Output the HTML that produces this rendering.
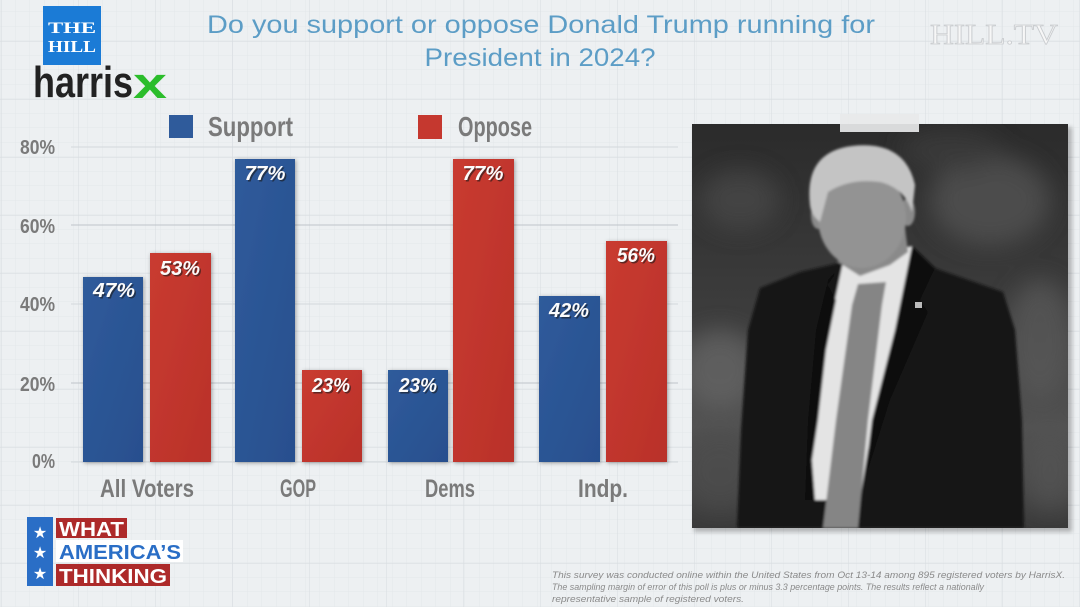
<!DOCTYPE html>
<html><head><meta charset="utf-8"><style>
html,body{margin:0;padding:0;background:#edf0f2;}
svg{display:block;}
text{font-family:"Liberation Sans",sans-serif;}
</style></head><body>
<svg width="1080" height="607" viewBox="0 0 1080 607" xmlns="http://www.w3.org/2000/svg">
<defs>
<pattern id="minor" x="1" y="41" width="14.5" height="14.5" patternUnits="userSpaceOnUse">
<path d="M14.5 0V14.5M0 14.5H14.5" stroke="#e3e7ea" stroke-width="1" fill="none"/>
</pattern>
<pattern id="major" x="1" y="41" width="77" height="58" patternUnits="userSpaceOnUse">
<path d="M0 0V58M0 0H77" stroke="#d9dee2" stroke-width="1.2" fill="none"/>
</pattern>
<filter id="sh" x="-20%" y="-10%" width="140%" height="120%">
<feDropShadow dx="1" dy="1" stdDeviation="2" flood-color="#000" flood-opacity="0.35"/>
</filter>
<filter id="blur6"><feGaussianBlur stdDeviation="12"/></filter>
<filter id="blur2"><feGaussianBlur stdDeviation="2"/></filter>
<filter id="blur1"><feGaussianBlur stdDeviation="1.2"/></filter>
<linearGradient id="bg" x1="0" y1="0" x2="0" y2="1">
<stop offset="0" stop-color="#2b2b2b"/><stop offset="0.5" stop-color="#3e3e3e"/><stop offset="0.75" stop-color="#525252"/><stop offset="1" stop-color="#3a3a3a"/>
</linearGradient>
<linearGradient id="blue" x1="0" y1="0" x2="1" y2="1">
<stop offset="0" stop-color="#2f5b9b"/><stop offset="1" stop-color="#284f8e"/>
</linearGradient>
<linearGradient id="red" x1="0" y1="0" x2="1" y2="1">
<stop offset="0" stop-color="#c93b30"/><stop offset="1" stop-color="#b9312a"/>
</linearGradient>
</defs>
<rect width="1080" height="607" fill="#edf0f2"/>
<rect width="1080" height="607" fill="url(#minor)"/>
<rect width="1080" height="607" fill="url(#major)"/>

<!-- THE HILL logo -->
<rect x="43" y="6" width="58" height="59" fill="#1b7bd6"/>
<text x="72" y="33" text-anchor="middle" font-weight="bold" font-size="16" fill="#fff" textLength="48" lengthAdjust="spacingAndGlyphs" style="font-family:'Liberation Serif',serif">THE</text>
<text x="72" y="52" text-anchor="middle" font-weight="bold" font-size="17" fill="#fff" textLength="48" lengthAdjust="spacingAndGlyphs" style="font-family:'Liberation Serif',serif">HILL</text>
<!-- harrisx -->
<text x="33" y="97" font-size="44" font-weight="bold" fill="#222" textLength="100" lengthAdjust="spacingAndGlyphs">harris</text>
<text x="133" y="98" font-size="44" font-weight="bold" fill="#2bbd2b" textLength="34" lengthAdjust="spacingAndGlyphs">x</text>

<!-- Title -->
<text x="541" y="33" text-anchor="middle" font-size="25" fill="#5c9dc6" textLength="668" lengthAdjust="spacingAndGlyphs">Do you support or oppose Donald Trump running for</text>
<text x="540" y="66" text-anchor="middle" font-size="25" fill="#5c9dc6" textLength="231" lengthAdjust="spacingAndGlyphs">President in 2024?</text>

<!-- HILLTV -->
<text x="930" y="44" font-size="28" fill="#f7f7f7" stroke="#c9cccf" stroke-width="0.8" textLength="128" lengthAdjust="spacingAndGlyphs" style="font-family:'Liberation Serif',serif">HILL.TV</text>

<!-- Legend -->
<rect x="169" y="115" width="24" height="23" fill="#2f5b9b"/>
<text x="208" y="136" font-size="28" font-weight="bold" fill="#7a7a7a" textLength="85" lengthAdjust="spacingAndGlyphs">Support</text>
<rect x="418" y="115" width="24" height="24" fill="#c5382f"/>
<text x="458" y="136" font-size="28" font-weight="bold" fill="#7a7a7a" textLength="74" lengthAdjust="spacingAndGlyphs">Oppose</text>

<!-- Gridlines -->
<g stroke-width="1">
<line x1="71" y1="147" x2="678" y2="147" stroke="#d3d8dc"/>
<line x1="71" y1="225" x2="678" y2="225" stroke="#bfc4c9"/>
<line x1="71" y1="304" x2="678" y2="304" stroke="#d3d8dc"/>
<line x1="71" y1="383" x2="678" y2="383" stroke="#bfc4c9"/>
<line x1="71" y1="462" x2="678" y2="462" stroke="#d3d8dc"/>
</g>
<!-- Y labels -->
<g font-size="20" font-weight="bold" fill="#7a7a7a" text-anchor="end">
<text x="55" y="154" textLength="35" lengthAdjust="spacingAndGlyphs">80%</text>
<text x="55" y="233" textLength="35" lengthAdjust="spacingAndGlyphs">60%</text>
<text x="55" y="311" textLength="35" lengthAdjust="spacingAndGlyphs">40%</text>
<text x="55" y="391" textLength="35" lengthAdjust="spacingAndGlyphs">20%</text>
<text x="55" y="468" textLength="23" lengthAdjust="spacingAndGlyphs">0%</text>
</g>

<!-- Bars -->
<g filter="url(#sh)">
<rect x="83" y="277" width="60" height="185" fill="url(#blue)"/>
<rect x="150" y="253" width="61" height="209" fill="url(#red)"/>
<rect x="235" y="159" width="60" height="303" fill="url(#blue)"/>
<rect x="302" y="370" width="60" height="92" fill="url(#red)"/>
<rect x="388" y="370" width="60" height="92" fill="url(#blue)"/>
<rect x="453" y="159" width="61" height="303" fill="url(#red)"/>
<rect x="539" y="296" width="61" height="166" fill="url(#blue)"/>
<rect x="606" y="241" width="61" height="221" fill="url(#red)"/>
</g>

<!-- Value labels -->
<g font-size="20" font-weight="bold" font-style="italic" text-anchor="middle">
<g fill="#1a1a1a" opacity="0.6" transform="translate(1.5,1.5)">
<text x="114" y="297" textLength="42" lengthAdjust="spacingAndGlyphs">47%</text>
<text x="180" y="275" textLength="40" lengthAdjust="spacingAndGlyphs">53%</text>
<text x="265" y="180" textLength="41" lengthAdjust="spacingAndGlyphs">77%</text>
<text x="331" y="392" textLength="38" lengthAdjust="spacingAndGlyphs">23%</text>
<text x="418" y="392" textLength="38" lengthAdjust="spacingAndGlyphs">23%</text>
<text x="483" y="180" textLength="41" lengthAdjust="spacingAndGlyphs">77%</text>
<text x="569" y="317" textLength="40" lengthAdjust="spacingAndGlyphs">42%</text>
<text x="636" y="262" textLength="38" lengthAdjust="spacingAndGlyphs">56%</text>
</g>
<g fill="#fbfbfb">
<text x="114" y="297" textLength="42" lengthAdjust="spacingAndGlyphs">47%</text>
<text x="180" y="275" textLength="40" lengthAdjust="spacingAndGlyphs">53%</text>
<text x="265" y="180" textLength="41" lengthAdjust="spacingAndGlyphs">77%</text>
<text x="331" y="392" textLength="38" lengthAdjust="spacingAndGlyphs">23%</text>
<text x="418" y="392" textLength="38" lengthAdjust="spacingAndGlyphs">23%</text>
<text x="483" y="180" textLength="41" lengthAdjust="spacingAndGlyphs">77%</text>
<text x="569" y="317" textLength="40" lengthAdjust="spacingAndGlyphs">42%</text>
<text x="636" y="262" textLength="38" lengthAdjust="spacingAndGlyphs">56%</text>
</g>
</g>

<!-- Category labels -->
<g font-size="25" font-weight="bold" fill="#7a7a7a" text-anchor="middle">
<text x="147" y="497" textLength="94" lengthAdjust="spacingAndGlyphs">All Voters</text>
<text x="298" y="497" textLength="36" lengthAdjust="spacingAndGlyphs">GOP</text>
<text x="450" y="497" textLength="50" lengthAdjust="spacingAndGlyphs">Dems</text>
<text x="603" y="497" textLength="50" lengthAdjust="spacingAndGlyphs">Indp.</text>
</g>

<!-- Photo -->
<rect x="694" y="127" width="378" height="405" fill="#000" opacity="0.25" filter="url(#blur2)"/>
<svg x="692" y="124" width="376" height="404" viewBox="692 124 376 404" overflow="hidden">
<rect x="692" y="124" width="376" height="404" fill="url(#bg)"/>
<g filter="url(#blur6)" opacity="0.75">
<ellipse cx="740" cy="200" rx="40" ry="30" fill="#4a4a4a"/>
<ellipse cx="990" cy="200" rx="60" ry="45" fill="#555"/>
<ellipse cx="720" cy="370" rx="40" ry="40" fill="#666"/>
<ellipse cx="1040" cy="340" rx="35" ry="60" fill="#5a5a5a"/>
<ellipse cx="950" cy="150" rx="50" ry="20" fill="#3d3d3d"/>
<ellipse cx="720" cy="470" rx="40" ry="40" fill="#4e4e4e"/>
<ellipse cx="1050" cy="470" rx="30" ry="40" fill="#555"/>
</g>
<g filter="url(#blur1)">
<!-- suit -->
<path d="M760 288 L800 272 L843 262 L905 255 L940 270 L1003 292 L1015 330 L1022 420 L1024 528 L737 528 L741 430 L748 330 Z" fill="#161616"/>
<!-- shirt -->
<path d="M843 262 L912 246 L905 300 L885 380 L868 450 L860 500 L808 500 L812 420 L822 350 L835 300 Z" fill="#e4e4e4"/>
<!-- lapels darker -->
<path d="M912 246 L935 268 L920 300 L928 312 L890 400 L868 470 L862 500 L872 420 L895 330 Z" fill="#0e0e0e"/>
<path d="M843 262 L828 285 L836 300 L826 350 L818 420 L812 460 L815 500 L805 500 L808 420 L816 330 L828 280 Z" fill="#0e0e0e"/>
<!-- tie -->
<path d="M858 284 L886 282 L882 305 L868 420 L858 528 L823 528 L836 420 L852 305 Z" fill="#858585"/>
<!-- neck/face -->
<path d="M835 230 L905 228 L908 252 L890 265 L860 276 L838 262 Z" fill="#8a8a8a"/>
<ellipse cx="818" cy="215" rx="7" ry="14" fill="#8a8a8a"/>
<ellipse cx="908" cy="212" rx="7" ry="14" fill="#8a8a8a"/>
<ellipse cx="862" cy="218" rx="44" ry="50" fill="#939393"/>
<!-- hair -->
<path d="M810 205 Q804 152 852 146 Q905 140 915 185 L912 212 Q905 188 880 182 Q850 178 828 192 L820 222 Q811 215 810 205 Z" fill="#c4c4c4"/>
</g>
<!-- pin -->
<rect x="915" y="302" width="7" height="6" fill="#bbb"/>
</svg>
<!-- tape -->
<rect x="840" y="114" width="79" height="18" fill="#e8e9ea" opacity="0.92"/>

<!-- What America's Thinking -->
<rect x="27" y="517" width="26" height="69" fill="#2a6ec6"/>
<g fill="#fff" font-size="16" text-anchor="middle">
<text x="40" y="538">★</text>
<text x="40" y="558">★</text>
<text x="40" y="579">★</text>
</g>
<rect x="56" y="518" width="71" height="20" fill="#ad2a2a"/>
<text x="59" y="536" font-size="20" font-weight="bold" fill="#fff" textLength="65" lengthAdjust="spacingAndGlyphs">WHAT</text>
<rect x="56" y="540" width="127" height="22" fill="#fff"/>
<text x="59" y="559" font-size="20" font-weight="bold" fill="#2a6ec6" textLength="122" lengthAdjust="spacingAndGlyphs">AMERICA’S</text>
<rect x="56" y="564" width="114" height="22" fill="#ad2a2a"/>
<text x="59" y="583" font-size="20" font-weight="bold" fill="#fff" textLength="108" lengthAdjust="spacingAndGlyphs">THINKING</text>

<!-- Footnote -->
<g font-size="9.5" font-style="italic" fill="#8a8a8a">
<text x="552" y="578" textLength="513" lengthAdjust="spacingAndGlyphs">This survey was conducted online within the United States from Oct 13-14 among 895 registered voters by HarrisX.</text>
<text x="552" y="590" textLength="432" lengthAdjust="spacingAndGlyphs">The sampling margin of error of this poll is plus or minus 3.3 percentage points. The results reflect a nationally</text>
<text x="552" y="602" textLength="192" lengthAdjust="spacingAndGlyphs">representative sample of registered voters.</text>
</g>
</svg>
</body></html>
